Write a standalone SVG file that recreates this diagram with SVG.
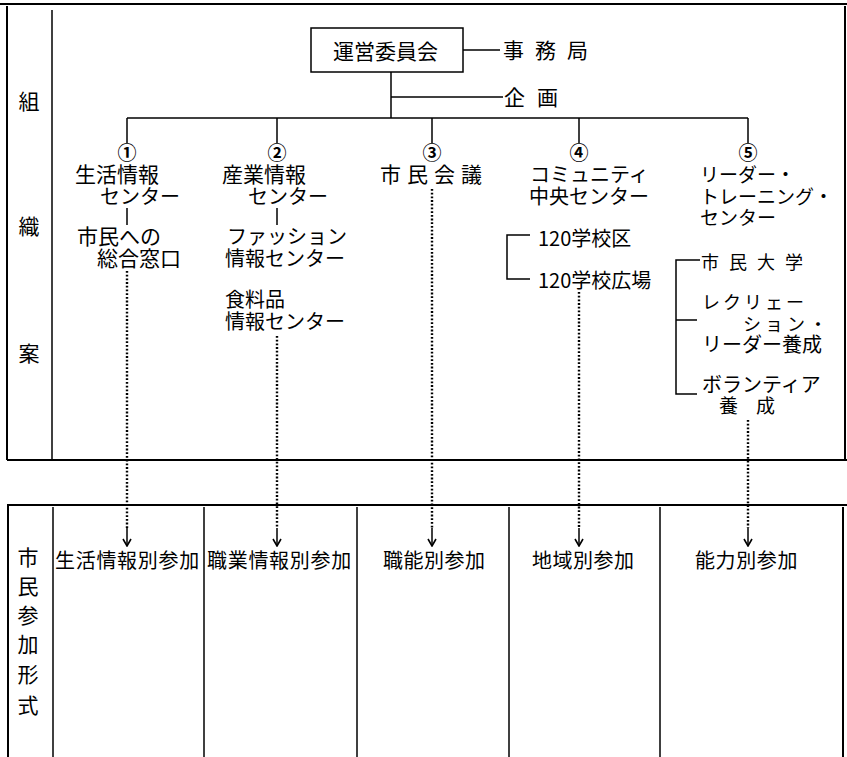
<svg xmlns="http://www.w3.org/2000/svg" width="847" height="757" viewBox="0 0 847 757">
<defs>
<style>
text{font-family:"Noto Sans CJK JP","Noto Sans CJK SC",sans-serif;fill:#000;font-size:21px}
.s20{font-size:20px}
.s19{font-size:19px}
.s18{font-size:18px}
.num{font-size:19px;text-anchor:middle;font-weight:bold}
.ln{stroke:#000;stroke-width:1.5;fill:none}
.fr{stroke:#000;stroke-width:2;fill:none}
.dot{stroke:#000;stroke-width:2.4;fill:none;stroke-dasharray:1.8 1.9}
</style>
<marker id="ah" viewBox="0 0 10 10" refX="9.5" refY="5" markerWidth="10" markerHeight="10" markerUnits="userSpaceOnUse" orient="auto">
<path d="M2.5,1 L9.5,5 L2.5,9" stroke="#000" stroke-width="1.6" fill="none"/>
</marker>
</defs>
<rect width="847" height="757" fill="#fff"/>
<g id="frame">
<line class="fr" x1="0" y1="4" x2="847" y2="4"/>
<line class="fr" x1="7" y1="6" x2="7" y2="460"/>
<line class="ln" x1="52" y1="10" x2="52" y2="459"/>
<line class="fr" x1="845" y1="6" x2="845" y2="460"/>
<line class="fr" x1="7" y1="460" x2="847" y2="460"/>
<line class="fr" x1="7" y1="505" x2="847" y2="505"/>
<line class="fr" x1="8" y1="506" x2="8" y2="757"/>
<line class="ln" x1="53" y1="507" x2="53" y2="757"/>
<line class="ln" x1="204" y1="507" x2="204" y2="757"/>
<line class="ln" x1="357" y1="507" x2="357" y2="757"/>
<line class="ln" x1="509" y1="507" x2="509" y2="757"/>
<line class="ln" x1="660" y1="507" x2="660" y2="757"/>
<line class="fr" x1="843" y1="507" x2="843" y2="757"/>
</g>
<g id="side-labels">
<text x="29" y="109" text-anchor="middle">組</text>
<text x="29" y="234" text-anchor="middle">織</text>
<text x="29" y="361" text-anchor="middle">案</text>
<text x="28" y="565" text-anchor="middle">市</text>
<text x="28" y="594" text-anchor="middle">民</text>
<text x="28" y="623" text-anchor="middle">参</text>
<text x="28" y="652" text-anchor="middle">加</text>
<text x="28" y="682" text-anchor="middle">形</text>
<text x="28" y="713" text-anchor="middle">式</text>
</g>
<g id="connectors">
<line class="ln" x1="391" y1="72" x2="391" y2="118"/>
<line class="ln" x1="463" y1="50" x2="500" y2="50"/>
<line class="ln" x1="391" y1="97" x2="503" y2="97"/>
<line class="ln" x1="127" y1="118" x2="748" y2="118"/>
<line class="ln" x1="127" y1="118" x2="127" y2="143"/>
<line class="ln" x1="277" y1="118" x2="277" y2="143"/>
<line class="ln" x1="432" y1="118" x2="432" y2="143"/>
<line class="ln" x1="579" y1="118" x2="579" y2="143"/>
<line class="ln" x1="748" y1="118" x2="748" y2="143"/>
<line class="ln" x1="127" y1="208" x2="127" y2="225"/>
<line class="ln" x1="277" y1="208" x2="277" y2="225"/>
<path class="ln" d="M530,235 H507 V279 H530"/>
<path class="ln" d="M700,260 H676 V394 H697 M676,320 H697"/>
<line class="dot" x1="127" y1="271" x2="127" y2="528"/>
<line class="dot" x1="277" y1="336" x2="277" y2="528"/>
<line class="dot" x1="432" y1="189" x2="432" y2="528"/>
<line class="dot" x1="579" y1="292" x2="579" y2="528"/>
<line class="dot" x1="748" y1="420" x2="748" y2="528"/>
<line class="ln" x1="127" y1="528" x2="127" y2="546" marker-end="url(#ah)"/>
<line class="ln" x1="277" y1="528" x2="277" y2="546" marker-end="url(#ah)"/>
<line class="ln" x1="432" y1="528" x2="432" y2="546" marker-end="url(#ah)"/>
<line class="ln" x1="579" y1="528" x2="579" y2="546" marker-end="url(#ah)"/>
<line class="ln" x1="748" y1="528" x2="748" y2="546" marker-end="url(#ah)"/>
</g>
<g id="node-unei">
<rect x="311" y="28" width="152" height="44" class="ln"/>
<text x="333" y="59">運営委員会</text>
</g>
<g id="node-jimukyoku"><text x="503" y="58" letter-spacing="11">事務局</text></g>
<g id="node-kikaku"><text x="504" y="105" letter-spacing="12">企画</text></g>
<g id="node-1">
<text class="num" x="127" y="160">①</text>
<text x="75" y="182">生活情報</text>
<text class="s20" x="100" y="204">センター</text>
</g>
<g id="node-1a">
<text x="77" y="244">市民への</text>
<text x="97" y="266">総合窓口</text>
</g>
<g id="node-2">
<text class="num" x="277" y="160">②</text>
<text x="222" y="182">産業情報</text>
<text class="s20" x="248" y="204">センター</text>
</g>
<g id="node-2a">
<text class="s20" x="227" y="244">ファッション</text>
<text class="s20" x="225" y="266">情報センター</text>
</g>
<g id="node-2b">
<text class="s20" x="225" y="307">食料品</text>
<text class="s20" x="225" y="329">情報センター</text>
</g>
<g id="node-3">
<text class="num" x="432" y="160">③</text>
<text x="380" y="182" letter-spacing="6">市民会議</text>
</g>
<g id="node-4">
<text class="num" x="579" y="160">④</text>
<text class="s20" x="530" y="182">コミュニティ</text>
<text class="s20" x="529" y="204">中央センター</text>
</g>
<g id="node-4a"><text class="s20" x="538" y="246">120学校区</text></g>
<g id="node-4b"><text class="s20" x="538" y="288">120学校広場</text></g>
<g id="node-5">
<text class="num" x="748" y="160">⑤</text>
<text class="s19" x="700" y="182">リーダー・</text>
<text class="s19" x="700" y="204">トレーニング・</text>
<text class="s19" x="700" y="225">センター</text>
</g>
<g id="node-5a"><text class="s18" x="701" y="269" letter-spacing="10">市民大学</text></g>
<g id="node-5b">
<text class="s18" x="702" y="309" letter-spacing="3">レクリェー</text>
<text class="s18" x="743" y="331" letter-spacing="4">ション・</text>
<text class="s20" x="702" y="352">リーダー養成</text>
</g>
<g id="node-5c">
<text class="s20" x="702" y="392">ボランティア</text>
<text class="s19" x="719" y="413" letter-spacing="18">養成</text>
</g>
<g id="form-labels">
<text class="s20" x="55" y="568" letter-spacing="0.7">生活情報別参加</text>
<text class="s20" x="207" y="568" letter-spacing="0.7">職業情報別参加</text>
<text class="s20" x="383" y="568" letter-spacing="0.5">職能別参加</text>
<text class="s20" x="532" y="568" letter-spacing="0.5">地域別参加</text>
<text class="s20" x="695" y="568" letter-spacing="0.6">能力別参加</text>
</g>
</svg>
